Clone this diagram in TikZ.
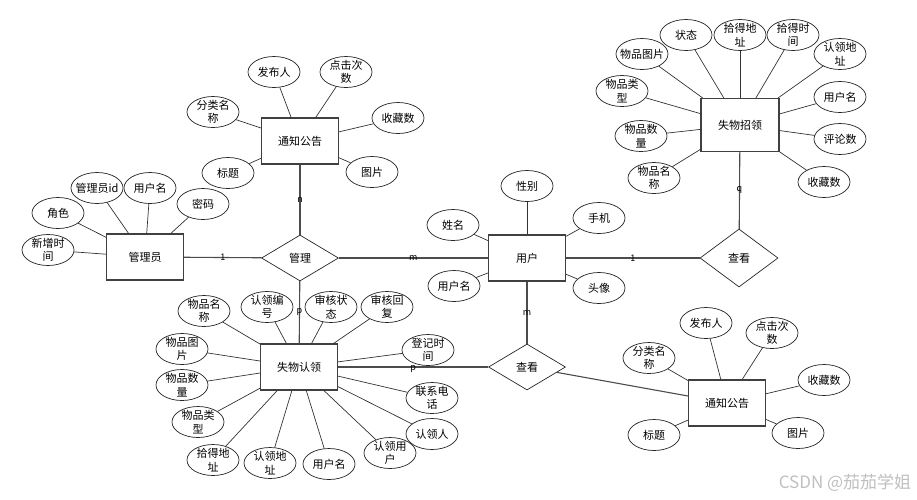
\documentclass[tikz,border=0pt]{standalone}
\usepackage{fontspec}
\setmainfont{Noto Sans CJK SC}
\usetikzlibrary{shapes.geometric}

\tikzset{
  entity/.style={draw=black!75, line width=1.1pt, minimum width=77pt, minimum height=46pt, inner sep=0pt},
  attr/.style={ellipse, draw=black!85, line width=0.7pt, minimum width=52pt, minimum height=31pt, inner xsep=-12pt, inner ysep=-4pt, align=center},
  rel/.style={diamond, draw=black!85, line width=0.7pt, minimum width=77pt, minimum height=46pt, inner sep=0pt},
  lnk/.style={draw=black!80, line width=0.7pt},
  rlnk/.style={draw=black!70, line width=1.1pt},
  card/.style={font=\fontsize{9}{10}\selectfont, inner sep=0pt}
}

\begin{document}
\begin{tikzpicture}[x=1pt, y=-1pt, font=\fontsize{11}{13.5}\selectfont]
                \useasboundingbox (0,0) rectangle (917,499);
                % entities and relations
                \node[entity] (tzgg) at (300,141) {通知公告};
                \node[entity] (gly) at (145,257) {管理员};
                \node[rel] (gl) at (300,258) {管理};
                \node[entity] (yh) at (527,258) {用户};
                \node[entity, minimum width=78pt, minimum height=53pt] (swzl) at (740,125) {失物招领};
                \node[rel, minimum width=78pt, minimum height=58pt] (ck1) at (739,258) {查看};
                \node[entity] (swrl) at (299,367) {失物认领};
                \node[rel] (ck2) at (527,367) {查看};
                \node[entity] (tzgg2) at (727,403) {通知公告};
                % attributes of tzgg
                \node[attr] (fbr1) at (274,72) {发布人};
                \node[attr] (djcs1) at (346,72) {点击次\\数};
                \node[attr] (flmc1) at (213,112) {分类名\\称};
                \node[attr] (scs1) at (398,118) {收藏数};
                \node[attr] (bt1) at (228,173) {标题};
                \node[attr] (tp1) at (372,172) {图片};
                % attributes of gly
                \node[attr] (glyid) at (97,188) {管理员id};
                \node[attr] (yhm1) at (150,188) {用户名};
                \node[attr] (mm) at (203,204) {密码};
                \node[attr] (js) at (58,213) {角色};
                \node[attr] (xzsj) at (48,250) {新增时\\间};
                % attributes of yh
                \node[attr] (xm) at (453,225) {姓名};
                \node[attr] (yhm2) at (454,286) {用户名};
                \node[attr] (xb) at (527,186) {性别};
                \node[attr] (sj) at (599,218) {手机};
                \node[attr] (tx) at (599,288) {头像};
                % attributes of swzl
                \node[attr] (zt) at (686,35) {状态};
                \node[attr] (sddz1) at (740,35) {拾得地\\址};
                \node[attr] (sdsj) at (793,35) {拾得时\\间};
                \node[attr] (rldz1) at (840,54) {认领地\\址};
                \node[attr] (wptp1) at (642,54) {物品图片};
                \node[attr] (wplx1) at (622,91) {物品类\\型};
                \node[attr] (yhm3) at (840,97) {用户名};
                \node[attr] (wpsl1) at (641,136) {物品数\\量};
                \node[attr] (pls) at (840,139) {评论数};
                \node[attr] (wpmc1) at (654,178) {物品名\\称};
                \node[attr] (scs2) at (824,182) {收藏数};
                % attributes of swrl
                \node[attr] (wpmc2) at (204,311) {物品名\\称};
                \node[attr] (rlbh) at (267,307) {认领编\\号};
                \node[attr] (shzt) at (331,307) {审核状\\态};
                \node[attr] (shhf) at (387,307) {审核回\\复};
                \node[attr] (wptp2) at (182,349) {物品图\\片};
                \node[attr] (djsj) at (428,350) {登记时\\间};
                \node[attr] (wpsl2) at (182,385) {物品数\\量};
                \node[attr] (lxdh) at (432,398) {联系电\\话};
                \node[attr] (wplx2) at (198,422) {物品类\\型};
                \node[attr] (rlr) at (432,434) {认领人};
                \node[attr] (sddz2) at (213,460) {拾得地\\址};
                \node[attr] (rldz2) at (270,463) {认领地\\址};
                \node[attr] (yhm4) at (329,464) {用户名};
                \node[attr] (rlyh) at (390,453) {认领用\\户};
                % attributes of tzgg2
                \node[attr] (fbr2) at (706,323) {发布人};
                \node[attr] (djcs2) at (772,333) {点击次\\数};
                \node[attr] (flmc2) at (649,358) {分类名\\称};
                \node[attr] (scs3) at (824,380) {收藏数};
                \node[attr] (bt2) at (654,435) {标题};
                \node[attr] (tp2) at (798,433) {图片};
                % attribute links
                \draw[lnk] (tzgg) -- (fbr1);
                \draw[lnk] (tzgg) -- (djcs1);
                \draw[lnk] (tzgg) -- (flmc1);
                \draw[lnk] (tzgg) -- (scs1);
                \draw[lnk] (tzgg) -- (bt1);
                \draw[lnk] (tzgg) -- (tp1);
                \draw[lnk] (gly) -- (glyid);
                \draw[lnk] (gly) -- (yhm1);
                \draw[lnk] (gly) -- (mm);
                \draw[lnk] (gly) -- (js);
                \draw[lnk] (gly) -- (xzsj);
                \draw[lnk] (yh) -- (xm);
                \draw[lnk] (yh) -- (yhm2);
                \draw[lnk] (yh) -- (xb);
                \draw[lnk] (yh) -- (sj);
                \draw[lnk] (yh) -- (tx);
                \draw[lnk] (swzl) -- (zt);
                \draw[lnk] (swzl) -- (sddz1);
                \draw[lnk] (swzl) -- (sdsj);
                \draw[lnk] (swzl) -- (rldz1);
                \draw[lnk] (swzl) -- (wptp1);
                \draw[lnk] (swzl) -- (wplx1);
                \draw[lnk] (swzl) -- (yhm3);
                \draw[lnk] (swzl) -- (wpsl1);
                \draw[lnk] (swzl) -- (pls);
                \draw[lnk] (swzl) -- (wpmc1);
                \draw[lnk] (swzl) -- (scs2);
                \draw[lnk] (swrl) -- (wpmc2);
                \draw[lnk] (swrl) -- (rlbh);
                \draw[lnk] (swrl) -- (shzt);
                \draw[lnk] (swrl) -- (shhf);
                \draw[lnk] (swrl) -- (wptp2);
                \draw[lnk] (swrl) -- (djsj);
                \draw[lnk] (swrl) -- (wpsl2);
                \draw[lnk] (swrl) -- (lxdh);
                \draw[lnk] (swrl) -- (wplx2);
                \draw[lnk] (swrl) -- (rlr);
                \draw[lnk] (swrl) -- (sddz2);
                \draw[lnk] (swrl) -- (rldz2);
                \draw[lnk] (swrl) -- (yhm4);
                \draw[lnk] (swrl) -- (rlyh);
                \draw[lnk] (tzgg2) -- (fbr2);
                \draw[lnk] (tzgg2) -- (djcs2);
                \draw[lnk] (tzgg2) -- (flmc2);
                \draw[lnk] (tzgg2) -- (scs3);
                \draw[lnk] (tzgg2) -- (bt2);
                \draw[lnk] (tzgg2) -- (tp2);
                % relation links
                \draw[rlnk] (gly) -- node[card, midway] {1} (gl);
                \draw[rlnk] (gl) -- node[card, midway] {m} (yh);
                \draw[rlnk] (gl) -- node[card, midway] {n} (tzgg);
                \draw[rlnk] (gl) -- node[card, midway] {p} (swrl);
                \draw[rlnk] (yh) -- node[card, midway] {1} (ck1);
                \draw[rlnk] (ck1) -- node[card, midway] {q} (swzl);
                \draw[rlnk] (yh) -- node[card, midway] {m} (ck2);
                \draw[rlnk] (ck2) -- node[card, midway, yshift=-2pt] {p} (swrl);
                \draw[rlnk] (ck2) -- (tzgg2);
                % watermark
                \node[text=black!25, font=\fontsize{17}{17}\selectfont] (wm) at (845,483) {CSDN @茄茄学姐};
\end{tikzpicture}
\end{document}
